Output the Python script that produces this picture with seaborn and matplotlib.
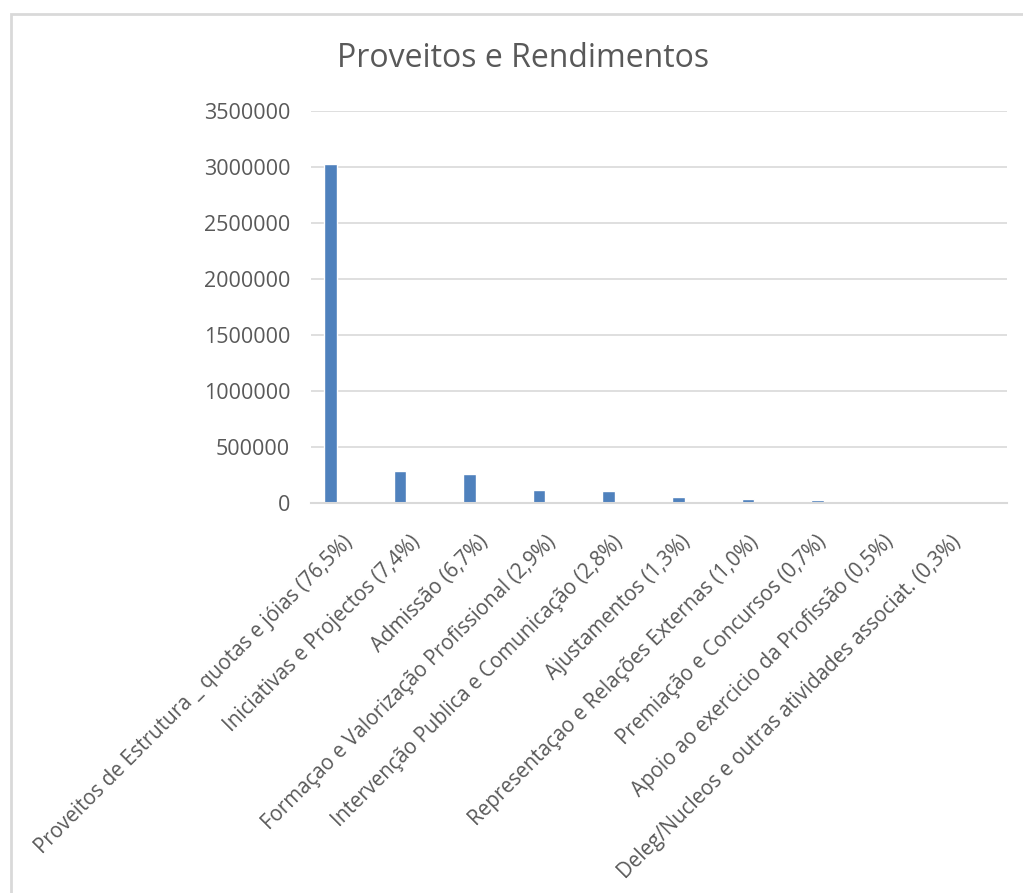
import numpy as np
import pandas as pd
import matplotlib.pyplot as plt
import seaborn as sns
from matplotlib.patches import Rectangle

sns.set_style('white')
plt.rcParams['font.family'] = ['Open Sans', 'DejaVu Sans']

# categorias e valores
categorias = ["Proveitos de Estrutura _ quotas e jóias (76,5%)",
              "Iniciativas e Projectos (7,4%)",
              "Admissão (6,7%)",
              "Formaçao e Valorização Profissional (2,9%)",
              "Intervenção Publica e Comunicação (2,8%)",
              "Ajustamentos (1,3%)",
              "Representaçao e Relações Externas (1,0%)",
              "Premiação e Concursos (0,7%)",
              "Apoio ao exercicio da Profissão (0,5%)",
              "Deleg/Nucleos e outras atividades associat. (0,3%)"]
valores = [3027000, 290000, 262000, 112000, 110000, 50000, 38000, 27000, 18000, 11000]
yticks = [0, 500000, 1000000, 1500000, 2000000, 2500000, 3000000, 3500000]

df = pd.DataFrame({'cat': categorias, 'val': valores})

fig = plt.figure(figsize=(10.23, 8.93), dpi=100)
ax = fig.add_axes([0.304, 0.4367, 0.680, 0.439])
sns.barplot(data=df, x='cat', y='val', color='#4F81BD', width=0.18, saturation=1, ax=ax)

ax.set_xlim(-0.28, 9.72)
ax.set_ylim(0, 3500000)
ax.set_yticks(yticks)
ax.set_yticklabels([str(v) for v in yticks], fontsize=15.5, color='#595959')
ax.yaxis.grid(True, color='#D9D9D9', linewidth=1.2)
ax.set_axisbelow(True)
# rotulos um pouco a direita das barras (como no Excel)
ax.set_xticks(np.linspace(0.28, 9.02, len(categorias)))
ax.set_xticklabels(categorias, rotation=45, ha='right', va='center',
                   rotation_mode='anchor', fontsize=14.8, color='#595959')
ax.tick_params(axis='x', length=0, pad=26)
ax.tick_params(axis='y', length=0, pad=15)
ax.set_xlabel('')
ax.set_ylabel('')
for s in ['top', 'right', 'left']:
    ax.spines[s].set_visible(False)
ax.spines['bottom'].set_color('#D9D9D9')
ax.spines['bottom'].set_linewidth(1.5)

fig.text(0.511, 0.935, 'Proveitos e Rendimentos', ha='center', va='center',
         fontsize=23, color='#595959')
fig.patches.append(Rectangle((0.0105, -0.05), 1.2, 1.0345, transform=fig.transFigure,
                             fill=False, edgecolor='#D9D9D9', linewidth=2))

plt.savefig('out.png', dpi=100)
